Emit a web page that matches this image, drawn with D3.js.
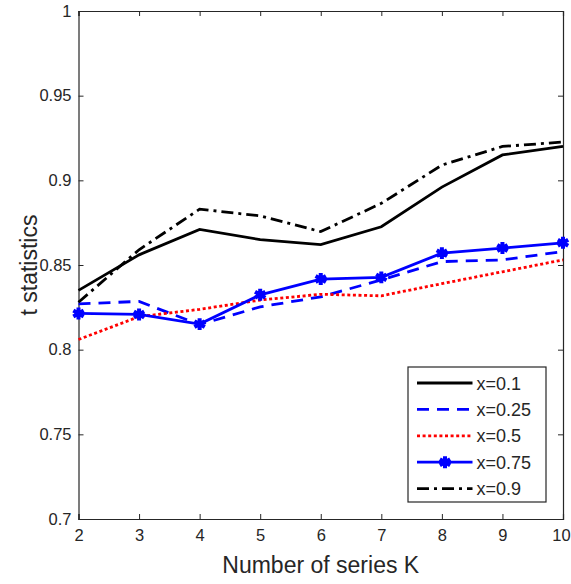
<!DOCTYPE html>
<html>
<head>
<meta charset="utf-8">
<script src="https://cdn.jsdelivr.net/npm/d3@7"></script>
<style>
  body { margin: 0; background: #fff; }
  svg text { font-family: "Liberation Sans", Arial, sans-serif; fill: #262626; }
</style>
</head>
<body>
<div id="chart"></div>
<script>
// data
let K = [2, 3, 4, 5, 6, 7, 8, 9, 10];
let x01 = [0.835, 0.856, 0.871, 0.865, 0.862, 0.8726, 0.896, 0.915, 0.920];
let x025 = [0.827, 0.8285, 0.8148, 0.8253, 0.8312, 0.8412, 0.852, 0.853, 0.858];
let x05 = [0.806, 0.8195, 0.8238, 0.8293, 0.8327, 0.8318, 0.839, 0.846, 0.853];
let x075 = [0.8214, 0.8208, 0.8151, 0.8324, 0.8417, 0.8427, 0.857, 0.860, 0.8631];
let x09 = [0.828, 0.859, 0.883, 0.879, 0.8697, 0.8864, 0.909, 0.920, 0.9226];
let yTicks = [0.7, 0.75, 0.8, 0.85, 0.9, 0.95, 1];
let xTicks = [2, 3, 4, 5, 6, 7, 8, 9, 10];

let series = [
  { name: "x=0.1", values: x01, color: "#000000", dash: null, marker: false },
  { name: "x=0.25", values: x025, color: "#0000ff", dash: "12,8", marker: false },
  { name: "x=0.5", values: x05, color: "#ff0000", dash: "3,2.6", marker: false },
  { name: "x=0.75", values: x075, color: "#0000ff", dash: null, marker: true },
  { name: "x=0.9", values: x09, color: "#000000", dash: "12,5,3,5", marker: false }
];

let W = 571, H = 584;
let m = { left: 78.5, top: 11, right: 8, bottom: 65 };
let iw = W - m.left - m.right, ih = H - m.top - m.bottom;

let svg = d3.select("#chart").append("svg")
  .attr("width", W).attr("height", H);

let g = svg.append("g").attr("transform", `translate(${m.left},${m.top})`);

let x = d3.scaleLinear().domain([2, 10]).range([0, iw]);
let y = d3.scaleLinear().domain([0.7, 1]).range([ih, 0]);

let fmt = d => String(+d.toFixed(2));

// axes (MATLAB style: inward ticks, full box)
let axL = g.append("g").call(d3.axisLeft(y).tickValues(yTicks).tickFormat(fmt).tickSize(-5).tickPadding(7));
let axB = g.append("g").attr("transform", `translate(0,${ih})`)
  .call(d3.axisBottom(x).tickValues(xTicks).tickFormat(d3.format("d")).tickSize(-5).tickPadding(10));
let axT = g.append("g").call(d3.axisTop(x).tickValues(xTicks).tickFormat("").tickSize(-5));
let axR = g.append("g").attr("transform", `translate(${iw},0)`)
  .call(d3.axisRight(y).tickValues(yTicks).tickFormat("").tickSize(-5));

[axL, axB, axT, axR].forEach(a => {
  a.selectAll("path.domain").attr("stroke", "#262626").attr("stroke-width", 1.2);
  a.selectAll(".tick line").attr("stroke", "#262626").attr("stroke-width", 1);
  a.selectAll("text").style("font-size", "16.5px").attr("fill", "#262626");
});
// keep the last x label inside the window
axB.selectAll(".tick text").filter(d => d === 10).attr("dx", "-2");

let line = d3.line().x((d, i) => x(K[i])).y(d => y(d));

series.forEach(s => {
  g.append("path")
    .datum(s.values)
    .attr("d", line)
    .attr("fill", "none")
    .attr("stroke", s.color)
    .attr("stroke-width", 2.8)
    .attr("stroke-dasharray", s.dash);
  if (s.marker) {
    g.selectAll(null).data(s.values).enter().append("path")
      .attr("d", d3.symbol(d3.symbolAsterisk, 100))
      .attr("transform", (d, i) => `translate(${x(K[i])},${y(d)})`)
      .attr("fill", "none")
      .attr("stroke", s.color)
      .attr("stroke-width", 4);
  }
});

// labels
svg.append("text")
  .attr("x", m.left + iw / 2).attr("y", 573)
  .attr("text-anchor", "middle")
  .style("font-size", "23px")
  .text("Number of series K");

svg.append("text")
  .attr("transform", `translate(37,${m.top + ih / 2}) rotate(-90)`)
  .attr("text-anchor", "middle")
  .style("font-size", "23px")
  .text("t statistics");

// legend
let lg = svg.append("g").attr("transform", "translate(408,367)");
lg.append("rect").attr("width", 138).attr("height", 135)
  .attr("fill", "#fff").attr("stroke", "#262626").attr("stroke-width", 1.2);

series.forEach((s, i) => {
  let yy = 16 + i * 26.4;
  lg.append("line")
    .attr("x1", 9).attr("x2", 64.5).attr("y1", yy).attr("y2", yy)
    .attr("stroke", s.color).attr("stroke-width", 2.8)
    .attr("stroke-dasharray", s.dash);
  if (s.marker) {
    lg.append("path")
      .attr("d", d3.symbol(d3.symbolAsterisk, 100))
      .attr("transform", `translate(37,${yy})`)
      .attr("fill", "none").attr("stroke", s.color).attr("stroke-width", 4);
  }
  lg.append("text")
    .attr("x", 68.5).attr("y", yy + 6.5)
    .style("font-size", "18px")
    .text(s.name);
});
</script>
</body>
</html>
